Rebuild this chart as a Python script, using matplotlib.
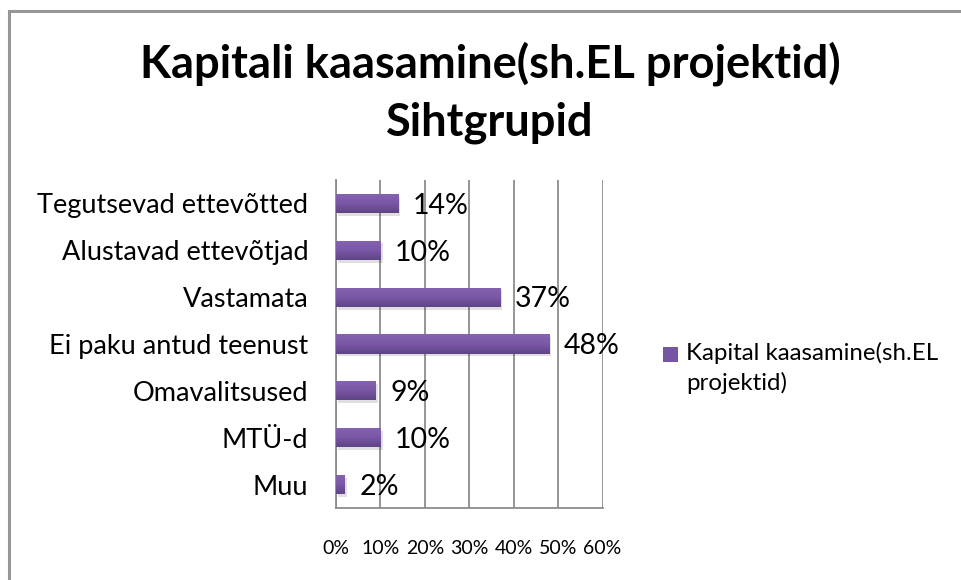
import numpy as np
import matplotlib.pyplot as plt
from matplotlib.patches import Rectangle
from matplotlib.colors import LinearSegmentedColormap
import matplotlib.patheffects as pe

plt.switch_backend('agg')
plt.rcParams['font.family'] = ['Lato', 'DejaVu Sans']

# data
categories = ['Tegutsevad ettevõtted', 'Alustavad ettevõtjad', 'Vastamata',
              'Ei paku antud teenust', 'Omavalitsused', 'MTÜ-d', 'Muu']
values = [14, 10, 37, 48, 9, 10, 2]
x_ticks = [0, 10, 20, 30, 40, 50, 60]
series_name = 'Kapital kaasamine(sh.EL\nprojektid)'
title = 'Kapitali kaasamine(sh.EL projektid)\nSihtgrupid'

W, H = 961, 580
fig = plt.figure(figsize=(W / 100, H / 100), dpi=100)

# outer chart border (runs off the right/bottom edge like the screenshot)
fig.add_artist(Rectangle((9 / W, -0.1), 1.2, 1.1 - 11 / H, transform=fig.transFigure,
                         fill=False, edgecolor='#969696', linewidth=2.2))

ax = fig.add_axes([336 / W, 1 - 508 / H, (602.5 - 336) / W, (508 - 180) / H])

n = len(categories)
ypos = np.arange(n)[::-1]
bar_col = '#7655A2'
bars = ax.barh(ypos, values, height=0.41, color=bar_col, zorder=3,
               path_effects=[pe.SimplePatchShadow(offset=(1.5, -2), shadow_rgbFace='#000000', alpha=0.12),
                             pe.Normal()])

# vertical gradient on each bar
cmap = LinearSegmentedColormap.from_list('grad', ['#5E4485', '#7A58A7', '#8663B0'])
grad = np.linspace(0, 1, 64).reshape(-1, 1)
for b in bars:
    im = ax.imshow(grad, extent=[b.get_x(), b.get_x() + b.get_width(), b.get_y(), b.get_y() + b.get_height()],
                   origin='lower', aspect='auto', cmap=cmap, zorder=4)
    im.set_clip_path(b)

for y, v in zip(ypos, values):
    ax.text(v + 3.3, y - 0.05, '%d%%' % v, va='center', ha='left', fontsize=20.5, color='black', zorder=5)

ax.set_xlim(0, 60)
ax.set_ylim(-0.5, n - 0.5)
ax.set_xticks(x_ticks)
ax.set_xticklabels(['%d%%' % t for t in x_ticks], fontsize=14)
ax.tick_params(axis='x', length=0, pad=23)
ax.set_yticks(ypos)
ax.set_yticklabels(categories, fontsize=19.5)
ax.tick_params(axis='y', length=0, pad=20)
ax.grid(axis='x', color='#8C8C8C', linewidth=1.3, zorder=1)
ax.set_axisbelow(True)
for s in ['top', 'right']:
    ax.spines[s].set_visible(False)
for s in ['left', 'bottom']:
    ax.spines[s].set_color('#8C8C8C')
    ax.spines[s].set_linewidth(1.3)

fig.text(490 / W, 1 - 135 / H, title, ha='center', va='baseline', fontsize=32.6,
         fontweight='bold', linespacing=1.45)

# legend
fig.add_artist(Rectangle((663 / W, 1 - 362 / H), 15 / W, 15 / H, transform=fig.transFigure,
                         facecolor=bar_col, edgecolor='none'))
fig.text(686 / W, 1 - 390 / H, series_name, ha='left', va='baseline', fontsize=17.3,
         linespacing=1.42, color='black')

fig.savefig('out.png', dpi=100)
